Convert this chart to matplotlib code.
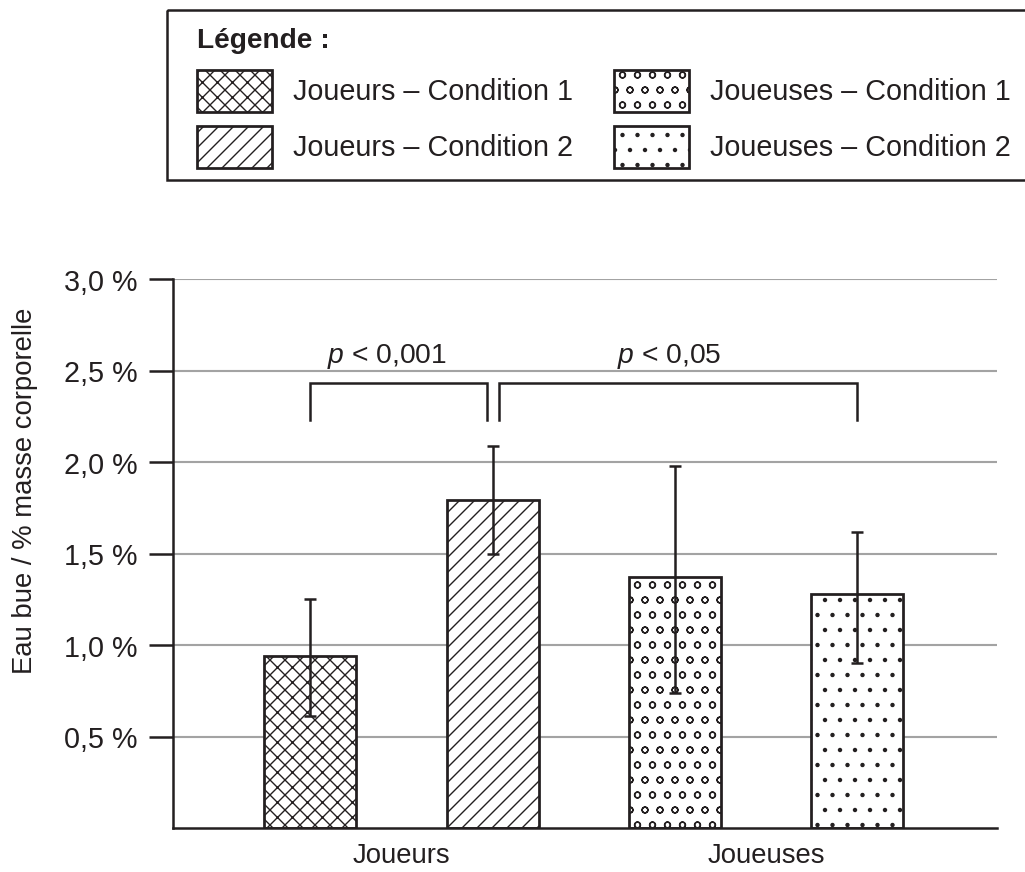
import matplotlib
matplotlib.use('Agg')
import matplotlib.pyplot as plt
from matplotlib.patches import Rectangle
import numpy as np

plt.rcParams['font.family'] = ['Liberation Sans', 'DejaVu Sans']
plt.rcParams['mathtext.fontset'] = 'custom'
plt.rcParams['mathtext.it'] = 'Liberation Sans:italic'
plt.rcParams['mathtext.rm'] = 'Liberation Sans'
plt.rcParams['hatch.linewidth'] = 1.1

# ---- data ----
series = ['Joueurs – Condition 1', 'Joueurs – Condition 2',
          'Joueuses – Condition 1', 'Joueuses – Condition 2']
values = [0.94, 1.79, 1.37, 1.28]
err_high = [1.25, 2.09, 1.98, 1.62]
err_low = [0.61, 1.50, 0.74, 0.90]
groups = ['Joueurs', 'Joueuses']
yticks = [0.5, 1.0, 1.5, 2.0, 2.5, 3.0]
ytick_labels = ['0,5 %', '1,0 %', '1,5 %', '2,0 %', '2,5 %', '3,0 %']
brackets = [(0, 1), (1, 3)]
p_labels = ['$\\mathit{p}$ < 0,001', '$\\mathit{p}$ < 0,05']
ylabel = 'Eau bue / % masse corporelle'
legend_title = 'Légende :'

# ---- style ----
hatches = ['xx', '//', 'o', '.']
dark = '#231f20'
grid_col = '#a3a3a3'
FS = 22
FS_LEG = 23
FS_TICK = 23
DPI = 90
W, H = 1025, 873

fig = plt.figure(figsize=(W / DPI, H / DPI), dpi=DPI)
ax = fig.add_axes([173 / W, (H - 829) / H, (997 - 173) / W, (829 - 280) / H])

x = np.arange(len(values))
vals = np.array(values)
lo = vals - np.array(err_low)
hi = np.array(err_high) - vals

ax.bar(x, vals, width=0.505, color='white', edgecolor=dark, linewidth=2.2,
       hatch=hatches, zorder=2)
ax.errorbar(x, vals, yerr=[lo, hi], fmt='none', ecolor=dark, elinewidth=2,
            capsize=5, capthick=2, zorder=3)

ax.set_xlim(-0.754, 3.766)
ax.set_ylim(0, 3.0)
ax.set_yticks(yticks)
ax.set_yticklabels(ytick_labels)
ax.yaxis.grid(True, color=grid_col, linewidth=1.7, zorder=0)
ax.set_axisbelow(True)
ax.tick_params(axis='y', direction='out', length=19, width=2, pad=9,
               labelsize=FS_TICK, colors=dark, labelcolor=dark)
ax.set_xticks([0.5, 2.5])
ax.set_xticklabels(groups)
ax.tick_params(axis='x', length=0, pad=11, labelsize=FS, labelcolor=dark)
for s in ['top', 'right']:
    ax.spines[s].set_visible(False)
for s in ['left', 'bottom']:
    ax.spines[s].set_linewidth(2)
    ax.spines[s].set_color(dark)

# significance brackets
gap = 0.033
y_top, y_leg = 2.432, 2.23
for (i, j), lab in zip(brackets, p_labels):
    x0 = x[i] + (gap if i == 1 else 0)
    x1 = x[j] - (gap if j == 1 else 0)
    ax.plot([x0, x0, x1, x1], [y_leg, y_top, y_top, y_leg], color=dark,
            linewidth=2, zorder=4, solid_joinstyle='miter', clip_on=False)
    xc = 0.42 if i == 0 else 1.967
    ax.text(xc, 2.546, lab, ha='center', va='baseline', fontsize=22.6,
            color=dark)

fig.text(25 / W, 1 - 491 / H, ylabel, rotation=90, ha='center', va='center',
         fontsize=FS, color=dark)

# ---- legend (pixel-coordinate overlay) ----
lax = fig.add_axes([0, 0, 1, 1])
lax.set_xlim(0, W)
lax.set_ylim(H, 0)
lax.axis('off')
lax.add_patch(Rectangle((167, 11), 900, 170, fill=False, edgecolor=dark,
                        linewidth=2, clip_on=True))
lax.text(197, 48, legend_title, fontsize=22.5, fontweight='bold', color=dark,
         ha='left', va='baseline')
sw_x = [197, 614]
sw_y = [71, 127]
for k, (lab, h) in enumerate(zip(series, hatches)):
    col, row = k // 2, k % 2
    lax.add_patch(Rectangle((sw_x[col], sw_y[row]), 75, 42, facecolor='white',
                            edgecolor=dark, linewidth=2.2, hatch=h))
    lax.text(sw_x[col] + 96, sw_y[row] + 21, lab, fontsize=FS_LEG, color=dark,
             ha='left', va='center')

fig.savefig('out.png', dpi=DPI)
